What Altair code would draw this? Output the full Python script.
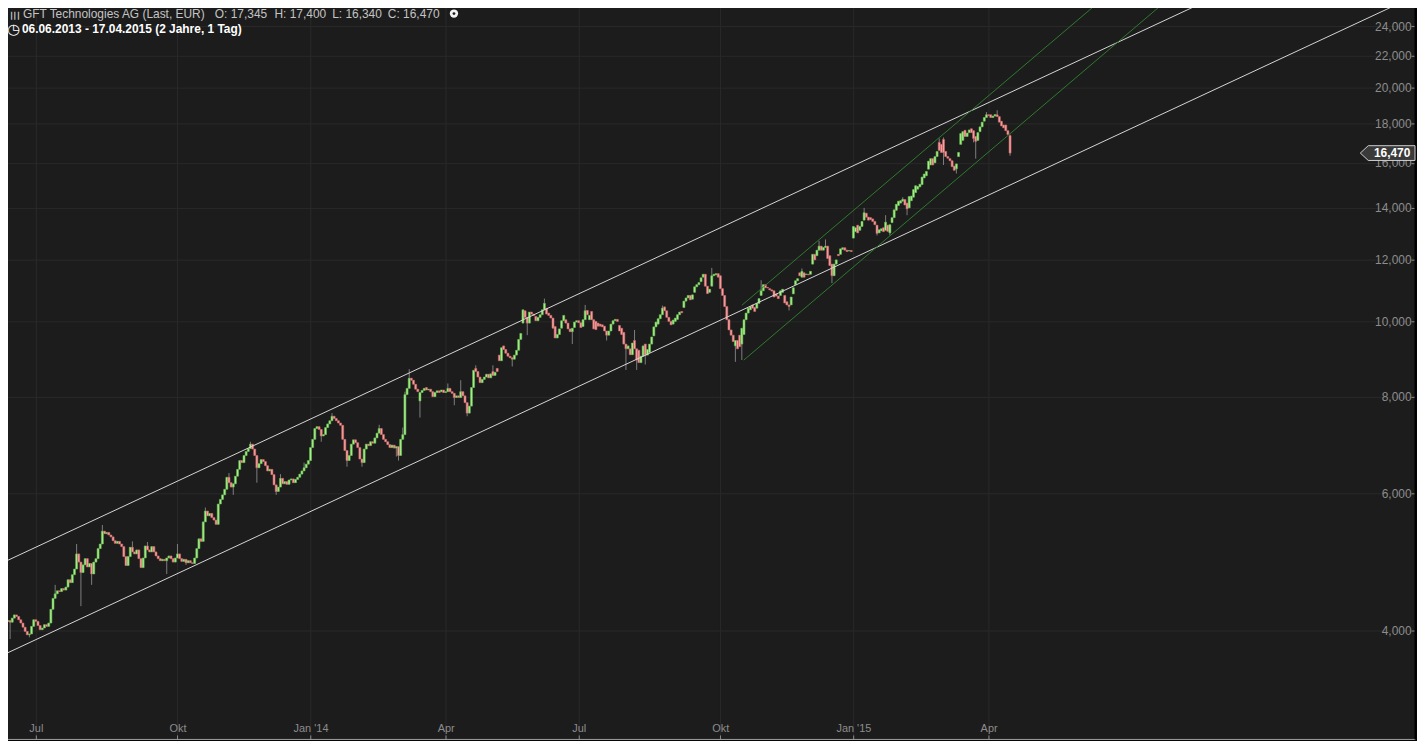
import altair as alt
import pandas as pd

# ---------------- data ----------------
opens = [
    4.10, 4.14, 4.09, 4.13, 4.11, 4.12, 4.10, 4.15, 4.19, 4.17,
    4.13, 4.09, 4.04, 3.99, 3.95, 3.96, 4.05, 4.13, 4.11, 4.06,
    4.01, 4.03, 4.07, 4.05, 4.09, 4.26, 4.40, 4.46, 4.50, 4.49,
    4.53, 4.51, 4.55, 4.65, 4.61, 4.72, 4.80, 5.02, 4.90, 4.75,
    4.86, 4.95, 4.83, 4.88, 4.73, 4.90, 4.95, 5.10, 5.17, 5.37,
    5.33, 5.35, 5.31, 5.28, 5.22, 5.18, 5.21, 5.17, 5.13, 4.98,
    4.85, 4.98, 5.12, 5.05, 5.02, 5.08, 4.95, 4.82, 4.96, 5.14,
    5.08, 5.05, 5.13, 5.05, 4.99, 4.95, 4.92, 4.94, 4.92, 4.96,
    4.99, 4.95, 4.90, 4.96, 5.02, 4.95, 4.91, 4.94, 4.89, 4.92,
    4.89, 4.88, 4.96, 5.10, 5.25, 5.21, 5.52, 5.70, 5.62, 5.66,
    5.59, 5.55, 5.48, 5.82, 5.90, 5.98, 6.08, 6.30, 6.20, 6.12,
    6.18, 6.32, 6.45, 6.62, 6.58, 6.72, 6.80, 6.86, 6.95, 6.85,
    6.72, 6.48, 6.56, 6.64, 6.60, 6.52, 6.42, 6.45, 6.35, 6.16,
    6.04, 6.12, 6.28, 6.18, 6.22, 6.17, 6.25, 6.27, 6.20, 6.26,
    6.30, 6.36, 6.42, 6.48, 6.55, 6.62, 6.88, 7.05, 7.28, 7.32,
    7.26, 7.12, 7.15, 7.30, 7.38, 7.45, 7.55, 7.50, 7.45, 7.40,
    7.35, 7.05, 6.82, 6.62, 6.72, 6.95, 7.04, 6.98, 6.88, 6.65,
    6.58, 6.85, 6.95, 6.92, 7.00, 6.97, 7.08, 7.18, 7.28, 7.15,
    7.05, 7.00, 6.94, 6.88, 6.93, 6.87, 6.90, 6.72, 7.05, 7.15,
    8.05, 8.20, 8.45, 8.40, 8.30, 8.18, 7.90, 8.10, 8.15, 8.22,
    8.16, 8.18, 8.12, 8.00, 8.10, 8.14, 8.12, 8.16, 8.10, 8.12,
    8.20, 8.12, 8.08, 7.98, 8.02, 7.98, 8.12, 8.02, 7.86, 7.62,
    7.78, 8.22, 8.70, 8.62, 8.48, 8.34, 8.42, 8.48, 8.55, 8.46,
    8.62, 8.52, 8.70, 9.05, 8.90, 9.30, 9.20, 9.10, 9.02, 8.98,
    8.94, 9.05, 9.18, 9.48, 9.95, 10.32, 10.12, 9.95, 10.28, 10.22,
    10.15, 10.02, 10.12, 10.20, 10.35, 10.40, 10.25, 10.18, 10.10, 9.85,
    9.52, 9.62, 9.80, 10.02, 10.05, 9.95, 9.78, 9.70, 9.82, 9.98,
    10.02, 9.96, 9.85, 10.05, 10.33, 10.05, 10.30, 10.05, 10.00, 9.95,
    9.92, 9.90, 9.86, 9.72, 9.60, 9.72, 9.92, 10.02, 10.06, 9.88,
    9.80, 9.68, 9.35, 9.22, 9.22, 9.06, 9.45, 9.22, 9.18, 8.85,
    9.02, 9.35, 9.05, 9.12, 9.35, 9.58, 9.84, 9.92, 10.08, 10.20,
    10.44, 10.32, 10.12, 10.00, 9.92, 10.00, 10.06, 10.20, 10.30, 10.42,
    10.62, 10.72, 10.80, 10.68, 10.90, 11.08, 11.15, 11.25, 11.40, 11.50,
    11.10, 10.90, 11.10, 11.45, 11.48, 11.52, 11.45, 11.02, 10.80, 10.45,
    10.05, 9.75, 9.60, 9.30, 9.45, 9.60, 9.35, 9.62, 10.05, 10.25,
    10.35, 10.50, 10.42, 10.40, 10.55, 10.80, 10.95, 11.15, 11.06, 11.02,
    10.98, 10.95, 10.85, 10.78, 10.80, 10.90, 10.80, 10.60, 10.50, 10.50,
    10.85, 11.15, 11.28, 11.55, 11.40, 11.55, 11.49, 11.50, 11.50, 11.85,
    12.20, 12.15, 12.35, 12.50, 12.35, 12.45, 12.50, 12.15, 11.85, 11.45,
    11.85, 12.20, 12.20, 12.38, 12.44, 12.35, 12.32, 12.34, 12.80, 13.05,
    13.30, 13.10, 13.25, 13.50, 13.78, 13.62, 13.60, 13.55, 13.45, 13.30,
    13.00, 13.08, 13.20, 13.10, 13.30, 13.00, 13.40, 13.60, 13.90, 14.10,
    14.20, 14.28, 14.35, 14.20, 14.00, 14.30, 14.45, 14.65, 14.80, 14.90,
    15.00, 15.30, 15.40, 15.70, 15.90, 16.20, 16.00, 16.30, 17.00, 16.90,
    17.15, 16.55, 16.30, 16.20, 16.10, 15.85, 15.72, 16.30, 16.90, 17.10,
    17.62, 17.30, 17.50, 17.70, 17.60, 17.30, 17.10, 17.55, 17.80, 18.10,
    18.30, 18.45, 18.45, 18.30, 18.38, 18.45, 18.35, 18.10, 17.90, 17.90,
    17.60, 17.345,
]
closes = [
    4.14, 4.09, 4.13, 4.11, 4.12, 4.10, 4.15, 4.19, 4.17, 4.13,
    4.09, 4.04, 3.99, 3.95, 3.96, 4.05, 4.13, 4.11, 4.06, 4.01,
    4.03, 4.07, 4.05, 4.09, 4.26, 4.40, 4.46, 4.50, 4.49, 4.53,
    4.51, 4.55, 4.65, 4.61, 4.72, 4.80, 5.02, 4.90, 4.75, 4.86,
    4.95, 4.83, 4.88, 4.73, 4.90, 4.95, 5.10, 5.17, 5.37, 5.33,
    5.35, 5.31, 5.28, 5.22, 5.18, 5.21, 5.17, 5.13, 4.98, 4.85,
    4.98, 5.12, 5.05, 5.02, 5.08, 4.95, 4.82, 4.96, 5.14, 5.08,
    5.05, 5.13, 5.05, 4.99, 4.95, 4.92, 4.94, 4.92, 4.96, 4.99,
    4.95, 4.90, 4.96, 5.02, 4.95, 4.91, 4.94, 4.89, 4.92, 4.89,
    4.88, 4.96, 5.10, 5.25, 5.21, 5.52, 5.70, 5.62, 5.66, 5.59,
    5.55, 5.48, 5.82, 5.90, 5.98, 6.08, 6.30, 6.20, 6.12, 6.18,
    6.32, 6.45, 6.62, 6.58, 6.72, 6.80, 6.86, 6.95, 6.85, 6.72,
    6.48, 6.56, 6.64, 6.60, 6.52, 6.42, 6.45, 6.35, 6.16, 6.04,
    6.12, 6.28, 6.18, 6.22, 6.17, 6.25, 6.27, 6.20, 6.26, 6.30,
    6.36, 6.42, 6.48, 6.55, 6.62, 6.88, 7.05, 7.28, 7.32, 7.26,
    7.12, 7.15, 7.30, 7.38, 7.45, 7.55, 7.50, 7.45, 7.40, 7.35,
    7.05, 6.82, 6.62, 6.72, 6.95, 7.04, 6.98, 6.88, 6.65, 6.58,
    6.85, 6.95, 6.92, 7.00, 6.97, 7.08, 7.18, 7.28, 7.15, 7.05,
    7.00, 6.94, 6.88, 6.93, 6.87, 6.90, 6.72, 7.05, 7.15, 8.05,
    8.20, 8.45, 8.40, 8.30, 8.18, 8.12, 8.10, 8.15, 8.20, 8.16,
    8.18, 8.12, 8.00, 8.10, 8.14, 8.10, 8.16, 8.10, 8.12, 8.20,
    8.12, 8.08, 7.98, 8.02, 7.98, 8.12, 8.02, 7.86, 7.62, 7.78,
    8.22, 8.65, 8.62, 8.48, 8.34, 8.42, 8.48, 8.55, 8.46, 8.56,
    8.52, 8.60, 8.62, 8.90, 9.25, 9.20, 9.10, 9.02, 8.98, 8.94,
    9.05, 9.18, 9.48, 9.65, 10.35, 10.12, 9.95, 10.28, 10.22, 10.18,
    10.02, 10.12, 10.20, 10.35, 10.55, 10.22, 10.18, 10.10, 9.80, 9.52,
    9.62, 9.78, 10.02, 10.18, 9.95, 9.78, 9.70, 9.80, 9.98, 10.02,
    9.96, 9.82, 10.05, 10.32, 10.20, 10.18, 10.05, 9.78, 9.76, 9.86,
    9.86, 9.84, 9.72, 9.60, 9.72, 9.92, 10.02, 10.06, 10.00, 9.72,
    9.62, 9.35, 9.22, 9.30, 9.06, 9.38, 9.22, 8.92, 8.85, 9.02,
    9.30, 9.05, 9.20, 9.35, 9.55, 9.84, 9.98, 10.08, 10.20, 10.40,
    10.32, 10.12, 10.00, 9.90, 10.04, 10.10, 10.20, 10.28, 10.26, 10.62,
    10.72, 10.80, 10.66, 10.82, 11.08, 11.15, 11.22, 11.38, 11.50, 11.10,
    10.86, 11.00, 11.45, 11.50, 11.52, 11.40, 11.02, 10.80, 10.45, 10.05,
    9.75, 9.60, 9.42, 9.45, 9.22, 9.28, 9.80, 10.05, 10.25, 10.40,
    10.45, 10.40, 10.30, 10.55, 10.70, 10.95, 11.15, 11.05, 11.04, 10.98,
    10.94, 10.75, 10.78, 10.70, 10.95, 11.00, 10.56, 10.50, 10.45, 10.75,
    11.05, 11.28, 11.35, 11.45, 11.60, 11.40, 11.51, 11.48, 11.60, 12.20,
    12.00, 12.35, 12.50, 12.35, 12.45, 12.50, 12.05, 11.80, 11.45, 11.85,
    12.00, 12.15, 12.40, 12.44, 12.35, 12.30, 12.34, 12.30, 13.25, 13.20,
    13.00, 13.25, 13.45, 13.80, 13.62, 13.50, 13.52, 13.45, 13.32, 12.98,
    13.12, 13.16, 13.05, 13.42, 13.06, 13.32, 13.60, 13.92, 14.15, 14.28,
    14.30, 14.36, 14.12, 13.96, 14.48, 14.50, 14.78, 14.95, 14.92, 15.02,
    15.34, 15.48, 15.60, 16.08, 16.20, 15.90, 16.30, 16.55, 16.60, 16.50,
    16.50, 16.30, 16.22, 16.10, 15.82, 15.65, 15.95, 16.50, 17.45, 17.55,
    17.30, 17.48, 17.64, 17.50, 17.20, 17.05, 17.50, 17.80, 18.05, 18.30,
    18.45, 18.40, 18.30, 18.38, 18.46, 18.35, 18.05, 17.85, 17.75, 17.60,
    17.40, 16.47,
]
# candles whose wick reaches visibly beyond the body: {trading-day index: price}
wick_high = {26: 4.58, 36: 5.17, 48: 5.47, 62: 5.21, 69: 5.20, 83: 5.17, 96: 5.76,
             107: 6.38, 117: 7.00, 131: 6.36, 142: 6.58, 155: 7.62, 177: 7.36,
             188: 7.30, 189: 8.12, 191: 8.68, 209: 8.32, 215: 8.40, 222: 8.78,
             230: 8.78, 254: 10.70, 273: 10.50, 296: 9.75, 309: 10.48, 332: 11.72,
             355: 11.30, 374: 11.70, 382: 12.70, 385: 12.75, 403: 14.00, 413: 13.70,
             421: 14.45, 438: 17.20, 440: 17.25, 460: 18.60, 465: 18.70, 471: 17.40}
wick_low = {5: 3.90, 14: 3.92, 38: 4.30, 43: 4.58, 78: 4.73, 87: 4.86, 109: 5.98,
            120: 6.20, 129: 5.98, 150: 7.00, 162: 6.50, 169: 6.50, 185: 6.70,
            186: 6.62, 196: 7.52, 212: 7.80, 218: 7.55, 239: 8.75, 246: 9.60,
            267: 9.35, 283: 9.45, 292: 8.66, 297: 8.66, 301: 8.80, 343: 8.87,
            346: 8.92, 368: 10.33, 388: 11.20, 409: 12.90, 415: 12.90, 423: 13.70,
            440: 15.90, 446: 15.50, 454: 17.00, 455: 16.20, 471: 16.34}

first_date = "06.06.2013"
last_date = "17.04.2015"
period_text = "(2 Jahre, 1 Tag)"
instrument = "GFT Technologies AG (Last, EUR)"

x_tick_index = [17, 83, 145, 208, 270, 336, 398, 461]
x_tick_label = ["Jul", "Okt", "Jan '14", "Apr", "Jul", "Okt", "Jan '15", "Apr"]
y_tick_values = [4, 6, 8, 10, 12, 14, 16, 18, 20, 22, 24]

# drawn trend channels: two points each (trading-day index, price)
white_name = ["w_up", "w_up", "w_lo", "w_lo"]
white_index = [0.0, 659.7, 0.0, 659.7]
white_price = [4.869, 34.50, 3.702, 26.23]
green_name = ["g_up", "g_up", "g_lo", "g_lo"]
green_index = [346.0, 659.7, 346.9, 659.7]
green_price = [10.49, 57.1, 8.916, 48.4]

# ---------------- build tables ----------------
n = len(closes)
assert len(opens) == n
highs = [max(opens[i], closes[i], wick_high.get(i, 0)) for i in range(n)]
lows = [min(opens[i], closes[i], wick_low.get(i, 1e9)) for i in range(n)]
df = pd.DataFrame({
    "idx": list(range(n)), "open": opens, "close": closes,
    "high": highs, "low": lows,
    "dir": ["up" if closes[i] >= opens[i] else "down" for i in range(n)],
})
white_df = pd.DataFrame({"line": white_name, "idx": white_index, "price": white_price})
green_df = pd.DataFrame({"line": green_name, "idx": green_index, "price": green_price})


def de(v):
    return f"{v:,.3f}".replace(",", "X").replace(".", ",").replace("X", ".")


last_df = pd.DataFrame({"price": [closes[-1]], "label": [de(closes[-1])]})

# ---------------- layout / style ----------------
W, H = 1423, 741
BG = "#1c1c1c"
GRID = "#292929"
AX = "#8c8c8c"
GREEN = "#a8f08c"
GREEN_EDGE = "#62b84c"
RED = "#f4a3a3"
RED_EDGE = "#cc6060"
FONT = "Liberation Sans"

lab_expr = "''"
for i, lab in reversed(list(zip(x_tick_index, x_tick_label))):
    lab_expr = f'datum.value == {i} ? "{lab}" : ({lab_expr})'

xscale = alt.Scale(domain=[0.315, 659.72], nice=False, zero=False, padding=0)
yscale = alt.Scale(type="log", domain=[2.901, 25.764], nice=False, padding=0)

xaxis = alt.Axis(orient="top", offset=-H, values=x_tick_index, labelExpr=lab_expr,
                 title=None, grid=True, gridColor=GRID, gridWidth=1, tickSize=4,
                 tickColor=AX, domainColor="#a4a4a4", domainWidth=1, labelColor=AX,
                 labelFont=FONT, labelFontSize=11, labelPadding=1, labelFlush=False,
                 labelOverlap=False)
yaxis = alt.Axis(orient="left", offset=-W, values=y_tick_values,
                 labelExpr="replace(format(datum.value, '.3f'), '.', ',')",
                 title=None, grid=True, gridColor=GRID, gridWidth=1, tickSize=4,
                 tickColor=AX, domainColor="#000000", domainWidth=2, labelColor=AX,
                 labelFont=FONT, labelFontSize=12, labelPadding=0, labelFlush=False,
                 labelOverlap=False)


def xenc(field="idx"):
    return alt.X(f"{field}:Q", scale=xscale, axis=xaxis)


def yenc(field):
    return alt.Y(f"{field}:Q", scale=yscale, axis=yaxis)


wicks = alt.Chart(df).mark_rule(color="#7e7e7e", strokeWidth=1, clip=True).encode(
    x=xenc(), y=yenc("low"), y2="high:Q")

bodies = alt.Chart(df).mark_bar(size=2, clip=True, strokeWidth=0.6).encode(
    x=xenc(), y=yenc("open"), y2="close:Q",
    color=alt.Color("dir:N", scale=alt.Scale(domain=["up", "down"], range=[GREEN, RED]),
                    legend=None),
    stroke=alt.Stroke("dir:N", scale=alt.Scale(domain=["up", "down"],
                                               range=[GREEN_EDGE, RED_EDGE]),
                      legend=None))

white_lines = alt.Chart(white_df).mark_line(strokeWidth=1, clip=True,
                                            color="#d6d6d6").encode(
    x=xenc(), y=yenc("price"), detail="line:N")
green_lines = alt.Chart(green_df).mark_line(strokeWidth=1, clip=True,
                                            color="#2e7b2e").encode(
    x=xenc(), y=yenc("price"), detail="line:N")

box_path = "M -1 0 L -0.71 -0.27 L 1 -0.27 L 1 0.27 L -0.71 0.27 Z"
price_box = alt.Chart(last_df).mark_point(shape=box_path, size=3025, filled=True,
                                          fill="#3a3a3a", stroke="#cfcfcf", strokeWidth=1,
                                          opacity=1).encode(
    x=alt.value(1395.5), y=yenc("price"))
price_text = alt.Chart(last_df).mark_text(font=FONT, fontSize=12, fontWeight="bold",
                                          color="#ffffff", align="center",
                                          baseline="middle").encode(
    x=alt.value(1400), y=yenc("price"), text="label:N")


def label(text, x, y, size=12, color="#c4c4c4", weight="normal", align="left",
          baseline="alphabetic", font=FONT, angle=0):
    return alt.Chart(pd.DataFrame({"t": [text]})).mark_text(
        font=font, fontSize=size, color=color, fontWeight=weight, align=align,
        baseline=baseline, angle=angle).encode(x=alt.value(x), y=alt.value(y), text="t:N")


header = [
    label("\u2630", 14, 13.5, size=11, color="#c4c4c4", align="center",
          baseline="middle", font="DejaVu Sans", angle=90),
    label(instrument, 23, 16),
    label("O: " + de(opens[-1]), 216, 16),
    label("H: " + de(highs[-1]), 276, 16),
    label("L: " + de(lows[-1]), 334, 16),
    label("C: " + de(closes[-1]), 390, 16),
    label("\u25f7", 13.5, 27.5, size=15, color="#ffffff", align="center",
          baseline="middle", font="DejaVu Sans"),
    label(f"{first_date} - {last_date} {period_text}", 22, 31, color="#ffffff",
          weight="bold"),
]
dot_df = pd.DataFrame({"k": [0]})
dot_outer = alt.Chart(dot_df).mark_point(shape="circle", filled=True, color="#f2f2f2",
                                         size=70, opacity=1).encode(
    x=alt.value(456.5), y=alt.value(11.5))
dot_inner = alt.Chart(dot_df).mark_point(shape="circle", filled=True, color="#1c1c1c",
                                         size=8, opacity=1).encode(
    x=alt.value(456.5), y=alt.value(11.5))

chart = alt.layer(wicks, bodies, white_lines, green_lines, price_box, price_text,
                  *header, dot_outer, dot_inner).properties(
    width=W, height=H,
    padding={"left": -8, "top": -8, "right": 2, "bottom": 0},
    autosize="none",
    background="#070707",
).configure_view(fill=BG, strokeWidth=0)

chart.save("out.html", embed_options={"renderer": "svg", "actions": False})
